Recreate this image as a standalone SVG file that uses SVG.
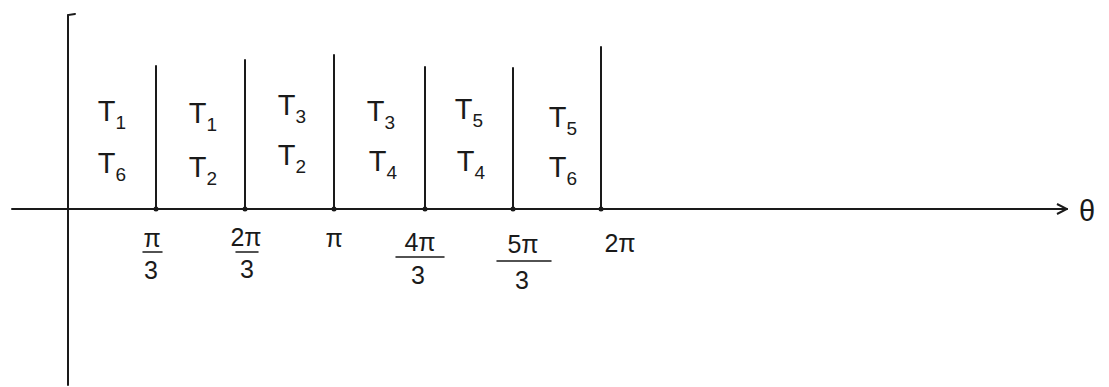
<svg xmlns="http://www.w3.org/2000/svg" width="1109" height="387" viewBox="0 0 1109 387">
<style>
.ln{stroke:#1a1a1a;stroke-width:2;fill:none;stroke-linecap:round}
.t{font-family:"Liberation Sans",Arial,sans-serif;font-size:29px;fill:#1a1a1a;text-anchor:middle}
.s{font-size:19px}
.k{font-size:25px}
.d{fill:#1a1a1a}
</style>
<defs>
<marker id="arr" viewBox="0 0 12 12" refX="11" refY="6" markerWidth="12" markerHeight="12" markerUnits="userSpaceOnUse" orient="auto">
<path d="M1,1 L11,6 L1,11" fill="none" stroke="#1a1a1a" stroke-width="2"/>
</marker>
</defs>
<g id="axes">
<path class="ln" d="M75,14 L68,15 L68,385"/>
<path class="ln" d="M12,209 L1067,209" marker-end="url(#arr)"/>
<text class="t" x="1087" y="221">θ</text>
</g>
<g id="connectors">
<path class="ln" d="M156,66 V209"/>
<path class="ln" d="M245,60 V209"/>
<path class="ln" d="M334,55 V209"/>
<path class="ln" d="M425,67 V209"/>
<path class="ln" d="M513,68 V209"/>
<path class="ln" d="M601,47 V209"/>
<circle class="d" cx="156" cy="209" r="2.5"/>
<circle class="d" cx="245" cy="209" r="2.5"/>
<circle class="d" cx="334" cy="209" r="2.5"/>
<circle class="d" cx="425" cy="209" r="2.5"/>
<circle class="d" cx="513" cy="209" r="2.5"/>
<circle class="d" cx="601" cy="209" r="2.5"/>
</g>
<g id="seg1"><text class="t" x="112" y="121">T<tspan class="s" dy="8">1</tspan></text><text class="t" x="112" y="173">T<tspan class="s" dy="8">6</tspan></text></g>
<g id="seg2"><text class="t" x="203" y="123">T<tspan class="s" dy="8">1</tspan></text><text class="t" x="203" y="177">T<tspan class="s" dy="8">2</tspan></text></g>
<g id="seg3"><text class="t" x="292" y="115">T<tspan class="s" dy="8">3</tspan></text><text class="t" x="292" y="165">T<tspan class="s" dy="8">2</tspan></text></g>
<g id="seg4"><text class="t" x="381" y="121">T<tspan class="s" dy="8">3</tspan></text><text class="t" x="383" y="171">T<tspan class="s" dy="8">4</tspan></text></g>
<g id="seg5"><text class="t" x="469" y="119">T<tspan class="s" dy="8">5</tspan></text><text class="t" x="471" y="171">T<tspan class="s" dy="8">4</tspan></text></g>
<g id="seg6"><text class="t" x="563" y="127">T<tspan class="s" dy="8">5</tspan></text><text class="t" x="563" y="177">T<tspan class="s" dy="8">6</tspan></text></g>
<g id="ticks">
<text class="t k" x="152" y="247">π</text>
<path class="ln" d="M143,252 H162" style="stroke-width:1.5"/>
<text class="t k" x="151" y="279">3</text>
<text class="t k" x="246" y="246">2π</text>
<path class="ln" d="M236,252 H258" style="stroke-width:1.5"/>
<text class="t k" x="247" y="278">3</text>
<text class="t k" x="334" y="247">π</text>
<text class="t k" x="420" y="251">4π</text>
<path class="ln" d="M396,257 H444" style="stroke-width:1.5"/>
<text class="t k" x="418" y="284">3</text>
<text class="t k" x="523" y="253">5π</text>
<path class="ln" d="M497,261 H551" style="stroke-width:1.5"/>
<text class="t k" x="522" y="289">3</text>
<text class="t k" x="620" y="252">2π</text>
</g>
</svg>
